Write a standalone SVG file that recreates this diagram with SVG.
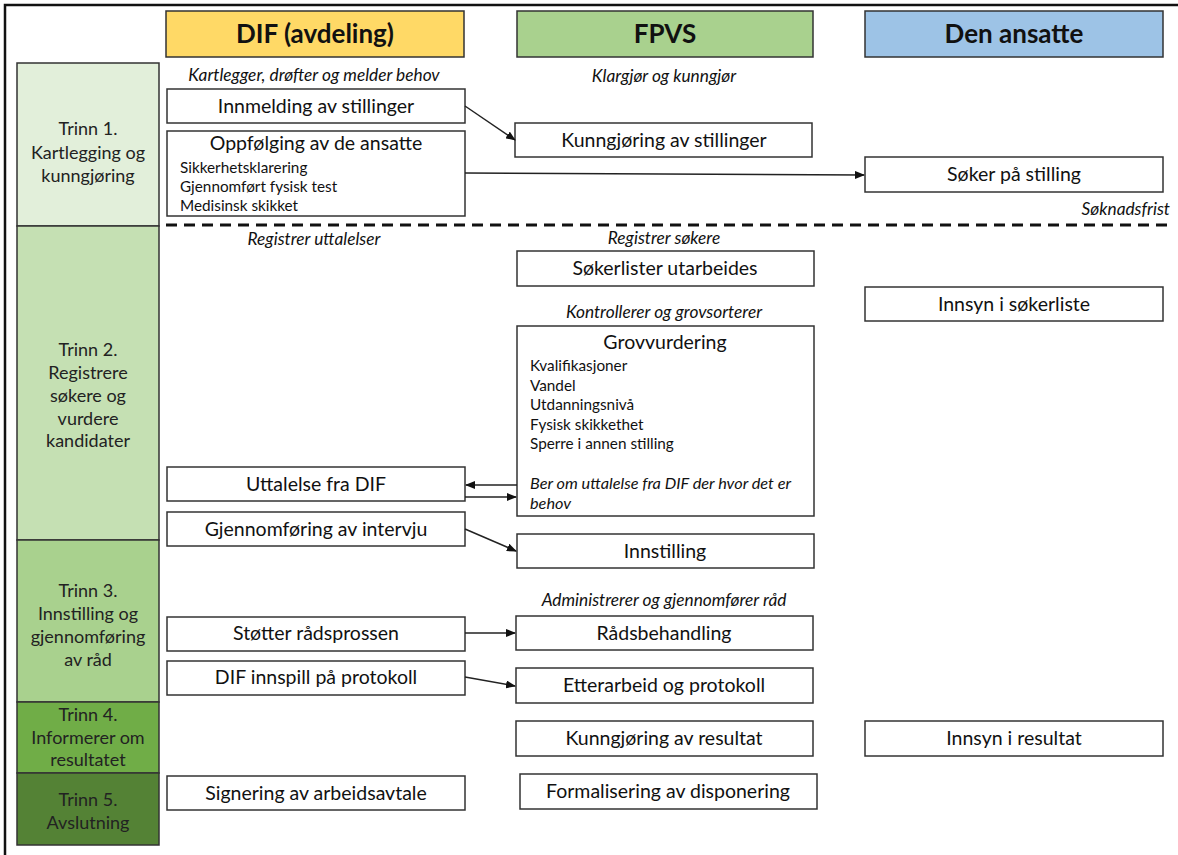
<svg xmlns="http://www.w3.org/2000/svg" width="1178" height="855" viewBox="0 0 1178 855">
<defs>
<marker id="ah" markerWidth="10" markerHeight="8" refX="9" refY="4" orient="auto" markerUnits="userSpaceOnUse">
<path d="M0,0 L10,4 L0,8 Z" fill="#111"/>
</marker>
<style>
.box{fill:#fff;stroke:#333;stroke-width:1.5}
.hdr{stroke:#333;stroke-width:1.5}
.stg{stroke:#333;stroke-width:1.5}
.t{font-family:Lato,"Liberation Sans",sans-serif;font-size:19.5px;fill:#111;text-anchor:middle}
.h{font-family:Lato,"Liberation Sans",sans-serif;font-size:26px;font-weight:bold;fill:#111;text-anchor:middle}
.i{font-family:Lato,"Liberation Sans",sans-serif;font-size:17.3px;font-style:italic;fill:#111;text-anchor:middle}
.ie{font-family:Lato,"Liberation Sans",sans-serif;font-size:17.3px;font-style:italic;fill:#111;text-anchor:end}
.s{font-family:Lato,"Liberation Sans",sans-serif;font-size:15.3px;fill:#111}
.si{font-family:Lato,"Liberation Sans",sans-serif;font-size:16.3px;font-style:italic;fill:#111}
.l{font-family:Lato,"Liberation Sans",sans-serif;font-size:18px;fill:#222;text-anchor:middle}
.c{stroke:#222;stroke-width:1.5;fill:none;marker-end:url(#ah)}
</style>
</defs>
<rect width="1178" height="855" fill="#fff"/>
<path d="M5,855 V5 H1178" fill="none" stroke="#111" stroke-width="2.5"/>

<g id="header-dif"><rect class="hdr" x="166" y="11" width="298" height="46" fill="#FFD966"/><text class="h" x="315" y="43">DIF (avdeling)</text></g>
<g id="header-fpvs"><rect class="hdr" x="517" y="11" width="296" height="46" fill="#A9D18E"/><text class="h" x="665" y="43">FPVS</text></g>
<g id="header-ansatte"><rect class="hdr" x="865" y="11" width="298" height="46" fill="#9DC3E6"/><text class="h" x="1014" y="43">Den ansatte</text></g>

<g id="trinn1"><rect class="stg" x="17" y="63" width="142" height="163" fill="#E2EFDA"/>
<text class="l" x="88" y="135">Trinn 1.</text><text class="l" x="88" y="159">Kartlegging og</text><text class="l" x="88" y="182">kunngjøring</text></g>
<g id="trinn2"><rect class="stg" x="17" y="226" width="142" height="314" fill="#C5E0B3"/>
<text class="l" x="88" y="356">Trinn 2.</text><text class="l" x="88" y="379">Registrere</text><text class="l" x="88" y="402">søkere og</text><text class="l" x="88" y="425">vurdere</text><text class="l" x="88" y="447">kandidater</text></g>
<g id="trinn3"><rect class="stg" x="17" y="540" width="142" height="162" fill="#A9D18E"/>
<text class="l" x="88" y="597">Trinn 3.</text><text class="l" x="88" y="620">Innstilling og</text><text class="l" x="88" y="643">gjennomføring</text><text class="l" x="88" y="666">av råd</text></g>
<g id="trinn4"><rect class="stg" x="17" y="702" width="142" height="71" fill="#70AD47"/>
<text class="l" x="88" y="721">Trinn 4.</text><text class="l" x="88" y="744">Informerer om</text><text class="l" x="88" y="766">resultatet</text></g>
<g id="trinn5"><rect class="stg" x="17" y="773" width="142" height="72" fill="#548235"/>
<text class="l" x="88" y="806">Trinn 5.</text><text class="l" x="88" y="829">Avslutning</text></g>

<line x1="166" y1="225" x2="1170" y2="225" stroke="#111" stroke-width="3" stroke-dasharray="11,7"/>

<text class="i" x="314" y="81">Kartlegger, drøfter og melder behov</text>
<text class="i" x="664" y="82">Klargjør og kunngjør</text>
<text class="ie" x="1170" y="215">Søknadsfrist</text>
<text class="i" x="314" y="245">Registrer uttalelser</text>
<text class="i" x="664" y="244">Registrer søkere</text>
<text class="i" x="664" y="318">Kontrollerer og grovsorterer</text>
<text class="i" x="664" y="606">Administrerer og gjennomfører råd</text>

<g id="innmelding"><rect class="box" x="167" y="89" width="298" height="34"/><text class="t" x="316" y="113">Innmelding av stillinger</text></g>
<g id="oppfolging"><rect class="box" x="167" y="131" width="298" height="85"/><text class="t" x="316" y="150">Oppfølging av de ansatte</text>
<text class="s" x="180" y="173">Sikkerhetsklarering</text><text class="s" x="180" y="192">Gjennomført fysisk test</text><text class="s" x="180" y="211">Medisinsk skikket</text></g>
<g id="uttalelse"><rect class="box" x="167" y="467" width="298" height="34"/><text class="t" x="316" y="491">Uttalelse fra DIF</text></g>
<g id="intervju"><rect class="box" x="167" y="512" width="298" height="34"/><text class="t" x="316" y="536">Gjennomføring av intervju</text></g>
<g id="stotter"><rect class="box" x="167" y="617" width="298" height="34"/><text class="t" x="316" y="640">Støtter rådsprossen</text></g>
<g id="innspill"><rect class="box" x="167" y="661" width="298" height="34"/><text class="t" x="316" y="684">DIF innspill på protokoll</text></g>
<g id="signering"><rect class="box" x="167" y="776" width="298" height="34"/><text class="t" x="316" y="800">Signering av arbeidsavtale</text></g>

<g id="kunngjoring"><rect class="box" x="515" y="123" width="297" height="34"/><text class="t" x="664" y="147">Kunngjøring av stillinger</text></g>
<g id="sokerlister"><rect class="box" x="517" y="251" width="297" height="35"/><text class="t" x="665" y="275">Søkerlister utarbeides</text></g>
<g id="grovvurdering"><rect class="box" x="517" y="326" width="297" height="190"/><text class="t" x="665" y="349">Grovvurdering</text>
<text class="s" x="530" y="371">Kvalifikasjoner</text><text class="s" x="530" y="391">Vandel</text><text class="s" x="530" y="410">Utdanningsnivå</text><text class="s" x="530" y="430">Fysisk skikkethet</text><text class="s" x="530" y="449">Sperre i annen stilling</text>
<text class="si" x="530" y="489">Ber om uttalelse fra DIF der hvor det er</text><text class="si" x="530" y="509">behov</text></g>
<g id="innstilling"><rect class="box" x="517" y="534" width="297" height="34"/><text class="t" x="665" y="558">Innstilling</text></g>
<g id="radsbehandling"><rect class="box" x="516" y="616" width="297" height="34"/><text class="t" x="664" y="640">Rådsbehandling</text></g>
<g id="etterarbeid"><rect class="box" x="516" y="668" width="297" height="35"/><text class="t" x="664" y="692">Etterarbeid og protokoll</text></g>
<g id="kunngjoring-resultat"><rect class="box" x="516" y="721" width="297" height="35"/><text class="t" x="664" y="745">Kunngjøring av resultat</text></g>
<g id="formalisering"><rect class="box" x="520" y="774" width="297" height="35"/><text class="t" x="668" y="798">Formalisering av disponering</text></g>

<g id="soker"><rect class="box" x="865" y="157" width="298" height="35"/><text class="t" x="1014" y="181">Søker på stilling</text></g>
<g id="innsyn-sokerliste"><rect class="box" x="865" y="287" width="298" height="34"/><text class="t" x="1014" y="311">Innsyn i søkerliste</text></g>
<g id="innsyn-resultat"><rect class="box" x="865" y="721" width="298" height="35"/><text class="t" x="1014" y="745">Innsyn i resultat</text></g>

<g id="connectors">
<line class="c" x1="465" y1="106" x2="515" y2="140"/>
<line class="c" x1="465" y1="173" x2="864" y2="175"/>
<line class="c" x1="517" y1="485" x2="466" y2="485"/>
<line class="c" x1="465" y1="497" x2="516" y2="497"/>
<line class="c" x1="465" y1="529" x2="516" y2="551"/>
<line class="c" x1="465" y1="633" x2="515" y2="633"/>
<line class="c" x1="465" y1="677" x2="515" y2="686"/>
</g>
</svg>
